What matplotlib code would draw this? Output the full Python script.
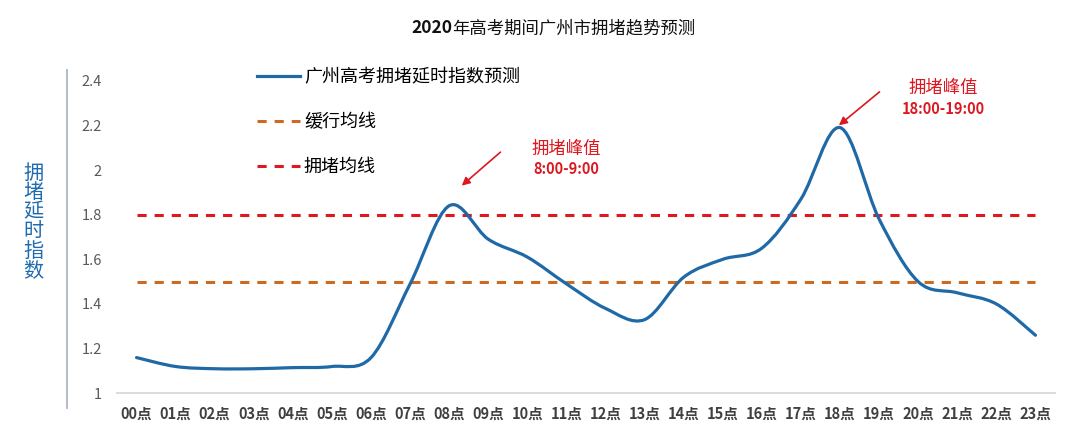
import matplotlib
matplotlib.use("Agg")
import matplotlib.pyplot as plt
from matplotlib.path import Path
from matplotlib.patches import PathPatch
from matplotlib.lines import Line2D

plt.rcParams['font.family'] = ['Noto Sans CJK SC', 'DejaVu Sans']

# Data.
hours = list(range(24))
hour_labels = ["%02d点" % h for h in hours]
delay_index = [1.16, 1.12, 1.11, 1.11, 1.115, 1.12, 1.16, 1.49, 1.84, 1.69,
               1.61, 1.49, 1.38, 1.33, 1.52, 1.60, 1.65, 1.87, 2.19, 1.78,
               1.50, 1.45, 1.40, 1.26]
slow_avg = 1.5
jam_avg = 1.8
y_ticks = [1, 1.2, 1.4, 1.6, 1.8, 2, 2.2, 2.4]
y_tick_labels = ["1", "1.2", "1.4", "1.6", "1.8", "2", "2.2", "2.4"]
peaks = [(8, "8:00-9:00"), (18, "18:00-19:00")]

BLUE = "#1f69a6"
ORANGE = "#cc6a22"
RED = "#dc1820"


def smooth_path(xs, ys):
    """ Excel-like smoothed line as cubic Bezier segments. """
    pts = list(zip(xs, ys))
    n = len(pts)
    verts = [pts[0]]
    codes = [Path.MOVETO]
    for i in range(n - 1):
        p0 = pts[i - 1] if i > 0 else pts[i]
        p1 = pts[i]
        p2 = pts[i + 1]
        p3 = pts[i + 2] if i + 2 < n else pts[i + 1]
        c1 = (p1[0] + (p2[0] - p0[0]) / 6.0, p1[1] + (p2[1] - p0[1]) / 6.0)
        c2 = (p2[0] - (p3[0] - p1[0]) / 6.0, p2[1] - (p3[1] - p1[1]) / 6.0)
        verts += [c1, c2, p2]
        codes += [Path.CURVE4] * 3
    return Path(verts, codes)


fig = plt.figure(figsize=(10.8, 4.44), dpi=100)
ax = fig.add_axes([117 / 1080, 50.7 / 444, 938 / 1080, 312.6 / 444])

# Main series (smoothed).
patch = PathPatch(smooth_path(hours, delay_index), facecolor="none",
                  edgecolor=BLUE, linewidth=2.3, capstyle="round", zorder=3)
ax.add_patch(patch)

# Average lines.
ax.plot([hours[0], hours[-1]], [slow_avg, slow_avg], color=ORANGE,
        linewidth=2.2, dashes=(3.0, 2.6), zorder=2)
ax.plot([hours[0], hours[-1]], [jam_avg, jam_avg], color=RED,
        linewidth=2.2, dashes=(3.0, 2.6), zorder=2)

ax.set_xlim(-0.5, 23.5)
ax.set_ylim(1, 2.4)
ax.set_xticks(hours)
ax.set_xticklabels(hour_labels, fontsize=10.5, fontweight="bold", color="#404040")
ax.set_yticks(y_ticks)
ax.set_yticklabels(y_tick_labels, fontsize=10.5, color="#595959")
ax.tick_params(axis="both", length=0)
ax.tick_params(axis="y", pad=11)
ax.tick_params(axis="x", pad=9)
for side in ["top", "right", "left"]:
    ax.spines[side].set_visible(False)
ax.spines["bottom"].set_color("#d9d9d9")
ax.spines["bottom"].set_linewidth(1.3)

# Legend.
handles = [Line2D([], [], color=BLUE, linewidth=2.3),
           Line2D([], [], color=ORANGE, linewidth=2.2, dashes=(3.0, 2.6)),
           Line2D([], [], color=RED, linewidth=2.2, dashes=(3.0, 2.6))]
labels = ["广州高考拥堵延时指数预测", "缓行均线", "拥堵均线"]
fig.legend(handles, labels, loc="upper left",
           bbox_to_anchor=(257 / 1080, 1 - 68 / 444), frameon=False,
           fontsize=13, handlelength=2.38, handletextpad=0.22,
           labelspacing=1.5, borderaxespad=0, borderpad=0)

# Peak annotations.
ax.annotate("", xy=(8.32, 1.93), xytext=(9.31, 2.08),
            arrowprops=dict(arrowstyle="-|>", color=RED, lw=1.2,
                            mutation_scale=12, shrinkA=0, shrinkB=0))
ax.annotate("", xy=(17.97, 2.20), xytext=(19.01, 2.35),
            arrowprops=dict(arrowstyle="-|>", color=RED, lw=1.2,
                            mutation_scale=12, shrinkA=0, shrinkB=0))
peak_text_pos = [(11.0, 2.093, 2.003), (20.65, 2.366, 2.272)]
for (h, span), (tx, ty1, ty2) in zip(peaks, peak_text_pos):
    ax.text(tx, ty1, "拥堵峰值", color=RED, fontsize=12.5, ha="center", va="center")
    ax.text(tx, ty2, span, color=RED, fontsize=10.5, fontweight="bold",
            ha="center", va="center")

# Title: bold year, regular rest.
fig.text(452 / 1080, 1 - 28 / 444, "2020", fontsize=12.5, fontweight="bold",
         ha="right", va="center", color="#111111")
fig.text(452 / 1080, 1 - 28 / 444, "年高考期间广州市拥堵趋势预测", fontsize=12.5,
         ha="left", va="center", color="#111111")

# Vertical y label, stacked characters.
fig.text(33 / 1080, 1 - 222 / 444, "\n".join("拥堵延时指数"), fontsize=14.5,
         color="#1f6bb0", ha="center", va="center", linespacing=0.9)

# Thin separator line left of tick labels.
fig.add_artist(Line2D([67 / 1080, 67 / 1080], [1 - 70 / 444, 1 - 408 / 444],
                      transform=fig.transFigure, color="#aab6c4", linewidth=1.3))

fig.savefig("out.png", dpi=100, facecolor="white")
